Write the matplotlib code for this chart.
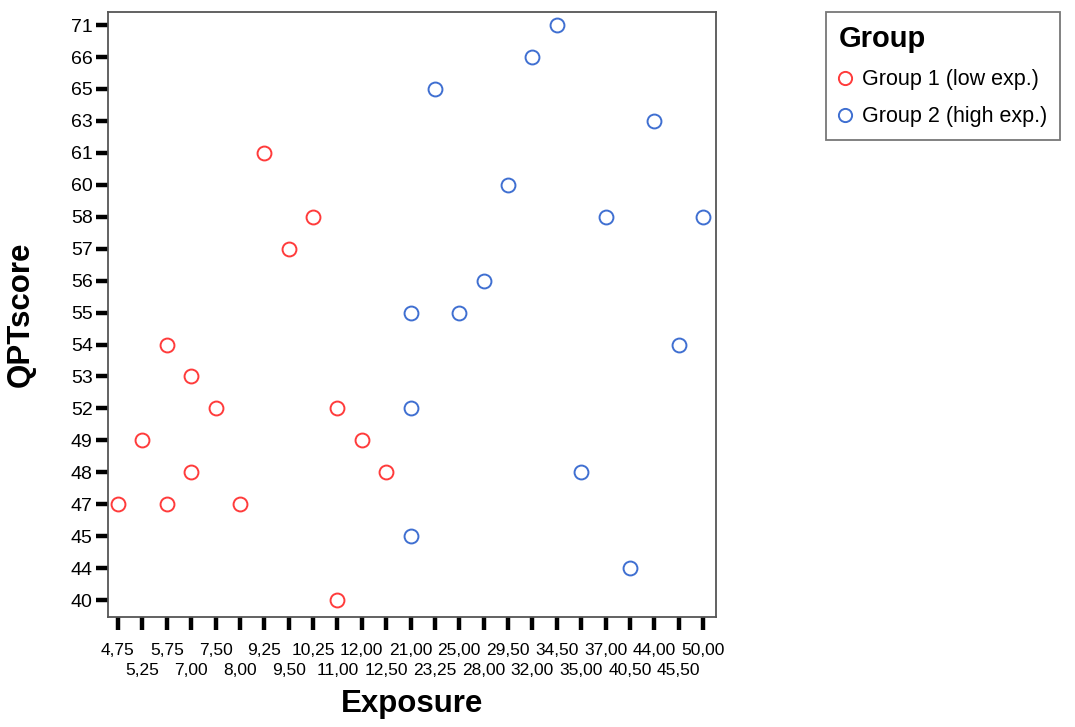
import matplotlib
matplotlib.use("Agg")
import matplotlib.pyplot as plt
from matplotlib.lines import Line2D

plt.rcParams["font.family"] = ["Liberation Sans", "DejaVu Sans"]

# categorical axes (SPSS style: every distinct value is a category)
exposure_cats = ["4,75", "5,25", "5,75", "7,00", "7,50", "8,00", "9,25", "9,50",
                 "10,25", "11,00", "12,00", "12,50", "21,00", "23,25", "25,00",
                 "28,00", "29,50", "32,00", "34,50", "35,00", "37,00", "40,50",
                 "44,00", "45,50", "50,00"]
score_cats = ["40", "44", "45", "47", "48", "49", "52", "53", "54", "55", "56",
              "57", "58", "60", "61", "63", "65", "66", "71"]

g1_exposure = ["4,75", "5,25", "5,75", "5,75", "7,00", "7,00", "7,50", "8,00",
               "9,25", "9,50", "10,25", "11,00", "11,00", "12,00", "12,50"]
g1_score = ["47", "49", "54", "47", "53", "48", "52", "47",
            "61", "57", "58", "52", "40", "49", "48"]

g2_exposure = ["21,00", "21,00", "21,00", "23,25", "25,00", "28,00", "29,50",
               "32,00", "34,50", "35,00", "37,00", "40,50", "44,00", "45,50", "50,00"]
g2_score = ["55", "52", "45", "65", "55", "56", "60",
            "66", "71", "48", "58", "44", "63", "54", "58"]

RED = "#ff3b3b"
BLUE = "#3f6fd1"

fig = plt.figure(figsize=(10.75, 7.27), dpi=100)
ax = fig.add_axes([108 / 1075, 1 - 617 / 727, (716 - 108) / 1075, (617 - 12) / 727])

ax.xaxis.update_units(exposure_cats)
ax.yaxis.update_units(score_cats)

ax.plot(g1_exposure, g1_score, ls="none", marker="o", ms=10, mfc="none",
        mec=RED, mew=1.4)
ax.plot(g2_exposure, g2_score, ls="none", marker="o", ms=10, mfc="none",
        mec=BLUE, mew=1.4)

ax.set_xlim(-0.41, len(exposure_cats) - 1 + 0.53)
ax.set_ylim(-0.53, len(score_cats) - 1 + 0.41)

# x labels on two staggered rows: even categories on major ticks, odd on minor
n = len(exposure_cats)
ax.set_xticks(range(0, n, 2))
ax.set_xticklabels(exposure_cats[0::2], fontsize=12.5)
ax.set_xticks(range(1, n, 2), minor=True)
ax.set_xticklabels(exposure_cats[1::2], minor=True, fontsize=12.5)
ax.set_yticks(range(len(score_cats)))
ax.set_yticklabels(score_cats, fontsize=14)

ax.tick_params(axis="both", which="both", direction="out", length=9,
               width=3.2, color="black")
ax.tick_params(axis="x", which="major", pad=10)
ax.tick_params(axis="x", which="minor", pad=24)
ax.tick_params(axis="y", pad=2)

for sp in ax.spines.values():
    sp.set_color("#555555")
    sp.set_linewidth(1.3)

ax.set_xlabel("Exposure", fontsize=22.5, fontweight="bold", labelpad=8)
ax.set_ylabel("QPTscore", fontsize=22.5, fontweight="bold", labelpad=25)

handles = [
    Line2D([], [], ls="none", marker="o", ms=9.5, mfc="none", mec=RED, mew=1.4),
    Line2D([], [], ls="none", marker="o", ms=9.5, mfc="none", mec=BLUE, mew=1.4),
]
leg = fig.legend(handles, ["Group 1 (low exp.)", "Group 2 (high exp.)"],
                 title="Group", loc="upper left",
                 bbox_to_anchor=(826 / 1075, 1 - 12 / 727), borderaxespad=0,
                 fontsize=15.5, frameon=True, fancybox=False,
                 handlelength=0.6, handletextpad=0.45, borderpad=0.6,
                 labelspacing=0.75, alignment="left")
leg.get_title().set_fontsize(21)
leg.get_title().set_fontweight("bold")
leg.get_frame().set_edgecolor("#555555")
leg.get_frame().set_linewidth(1.3)

fig.savefig("out.png", dpi=100)
